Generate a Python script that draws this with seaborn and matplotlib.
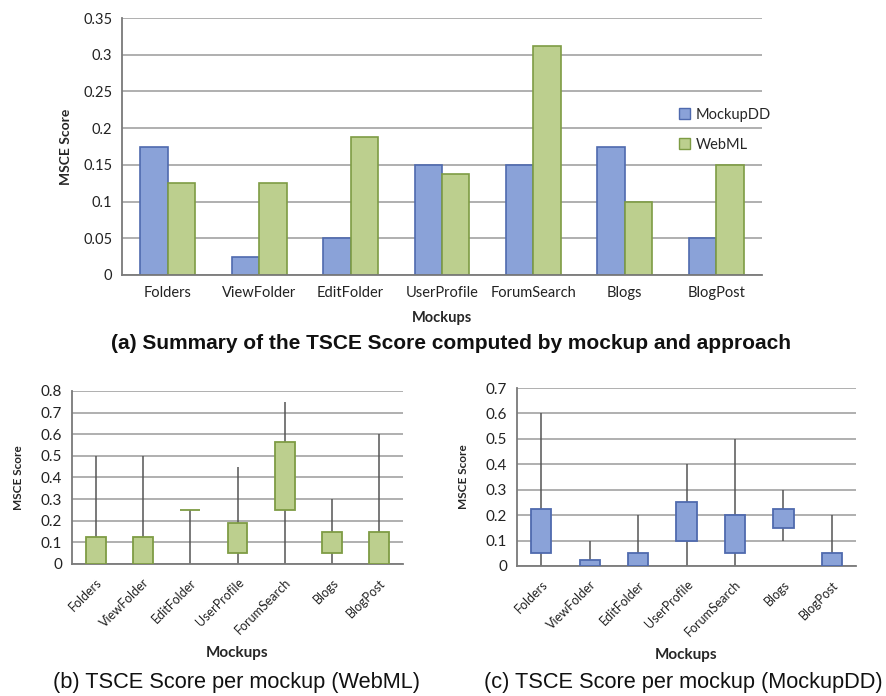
import numpy as np
import pandas as pd
import seaborn as sns
import matplotlib.pyplot as plt
from matplotlib.patches import Patch

# Data
mockups = ["Folders", "ViewFolder", "EditFolder", "UserProfile", "ForumSearch", "Blogs", "BlogPost"]
approaches = ["MockupDD", "WebML"]

# (a) summary scores
mockupdd_score = [0.175, 0.025, 0.05, 0.15, 0.15, 0.175, 0.05]
webml_score = [0.125, 0.125, 0.1875, 0.1375, 0.3125, 0.1, 0.15]

# (b) WebML per-mockup spread: whisker min/max and box q1/q3
webml_min = [0, 0, 0, 0, 0, 0, 0]
webml_q1 = [0, 0, 0.25, 0.05, 0.25, 0.05, 0]
webml_q3 = [0.125, 0.125, 0.25, 0.1875, 0.5625, 0.15, 0.15]
webml_max = [0.5, 0.5, 0.25, 0.45, 0.75, 0.3, 0.6]

# (c) MockupDD per-mockup spread
mdd_min = [0, 0, 0, 0, 0, 0.1, 0]
mdd_q1 = [0.05, 0, 0, 0.1, 0.05, 0.15, 0]
mdd_q3 = [0.225, 0.025, 0.05, 0.25, 0.2, 0.225, 0.05]
mdd_max = [0.6, 0.1, 0.2, 0.4, 0.5, 0.3, 0.2]

BLUE, BLUE_EDGE = "#8aa2d8", "#4f6aae"
GREEN, GREEN_EDGE = "#bccf8e", "#7e9c44"
GRID = "#9a9a9a"
SPINE = "#7a7a7a"

sns.set_style("white")
plt.rcParams["font.family"] = ["Lato", "DejaVu Sans"]
CAPTION_FONT = ["Liberation Sans", "DejaVu Sans"]

fig = plt.figure(figsize=(8.87, 6.96), dpi=100)


def style_axes(ax, ymax, ystep, fs):
    ax.set_ylim(0, ymax)
    ax.set_yticks(np.arange(0, ymax + 1e-9, ystep))
    ax.set_yticklabels([f"{v:g}" for v in np.arange(0, ymax + 1e-9, ystep)], fontsize=fs, color="#222222")
    ax.set_xlim(-0.5, len(mockups) - 0.5)
    ax.yaxis.grid(True, color=GRID, lw=1.1)
    ax.set_axisbelow(True)
    for s in ["top", "right"]:
        ax.spines[s].set_visible(False)
    for s in ["left", "bottom"]:
        ax.spines[s].set_color(SPINE)
        ax.spines[s].set_linewidth(1.3)
    ax.tick_params(axis="y", length=4, color=SPINE, width=1.1, pad=3)


# ---- (a) grouped bar chart ----
ax_a = fig.add_axes([0.1375, 0.6049, 0.7216, 0.3692])
summary = pd.DataFrame({
    "mockup": mockups * 2,
    "approach": [approaches[0]] * len(mockups) + [approaches[1]] * len(mockups),
    "score": mockupdd_score + webml_score,
})
sns.barplot(data=summary, x="mockup", y="score", hue="approach", order=mockups,
            hue_order=approaches, palette=[BLUE, GREEN], saturation=1, width=0.6,
            errorbar=None, linewidth=1.2, ax=ax_a, legend=False)
for cont, ec in zip(ax_a.containers, [BLUE_EDGE, GREEN_EDGE]):
    for bar in cont:
        bar.set_edgecolor(ec)
style_axes(ax_a, 0.35, 0.05, 10.5)
ax_a.tick_params(axis="x", length=0, labelsize=10.5, labelcolor="#222222", pad=8)
ax_a.set_xlabel("Mockups", fontsize=10.5, fontweight="bold", labelpad=8)
ax_a.set_ylabel("MSCE Score", fontsize=10, fontweight="bold", labelpad=8)
handles = [Patch(facecolor=BLUE, edgecolor=BLUE_EDGE), Patch(facecolor=GREEN, edgecolor=GREEN_EDGE)]
ax_a.legend(handles, approaches, loc="center left", bbox_to_anchor=(0.85, 0.565), frameon=False,
            fontsize=10.5, handlelength=0.75, handleheight=0.75, handletextpad=0.4, labelspacing=1.1)
fig.text(0.509, 0.507, "(a) Summary of the TSCE Score computed by mockup and approach",
         ha="center", va="center", fontsize=15, family=CAPTION_FONT, fontweight="bold", color="#111111")


# ---- (b) / (c) box charts built from stacked bars ----
def spread_panel(rect, q1, q3, wmin, wmax, fill, edge, ymax, caption, cap_x):
    ax = fig.add_axes(rect)
    df = pd.DataFrame({"mockup": mockups, "height": np.subtract(q3, q1)})
    ax.vlines(np.arange(len(mockups)), wmin, wmax, color="#555555", lw=1.1, zorder=2)
    sns.barplot(data=df, x="mockup", y="height", order=mockups, color=fill, saturation=1,
                width=0.42, errorbar=None, bottom=q1, edgecolor=edge, linewidth=1.3, ax=ax, zorder=3)
    style_axes(ax, ymax, 0.1, 11)
    ax.set_xticks(np.arange(len(mockups) + 1) - 0.5, minor=True)
    ax.tick_params(axis="x", which="major", length=0, labelsize=9, labelcolor="#222222", pad=9)
    ax.tick_params(axis="x", which="minor", length=4, color=SPINE, width=1.1)
    for lbl in ax.get_xticklabels():
        lbl.set_rotation(45)
        lbl.set_ha("right")
        lbl.set_rotation_mode("anchor")
    ax.set_xlabel("Mockups", fontsize=11, fontweight="bold", labelpad=7)
    ax.set_ylabel("MSCE Score", fontsize=8.5, fontweight="bold", labelpad=12)
    fig.text(cap_x, 0.019, caption, ha="center", va="center", fontsize=15.7,
             family=CAPTION_FONT, color="#111111")
    return ax


spread_panel([0.0812, 0.1897, 0.3732, 0.2486], webml_q1, webml_q3, webml_min, webml_max,
             GREEN, GREEN_EDGE, 0.8, "(b) TSCE Score per mockup (WebML)", 0.267)
spread_panel([0.5829, 0.1868, 0.3822, 0.2557], mdd_q1, mdd_q3, mdd_min, mdd_max,
             BLUE, BLUE_EDGE, 0.7, "(c) TSCE Score per mockup (MockupDD)", 0.770)

fig.savefig("out.png", dpi=100)
